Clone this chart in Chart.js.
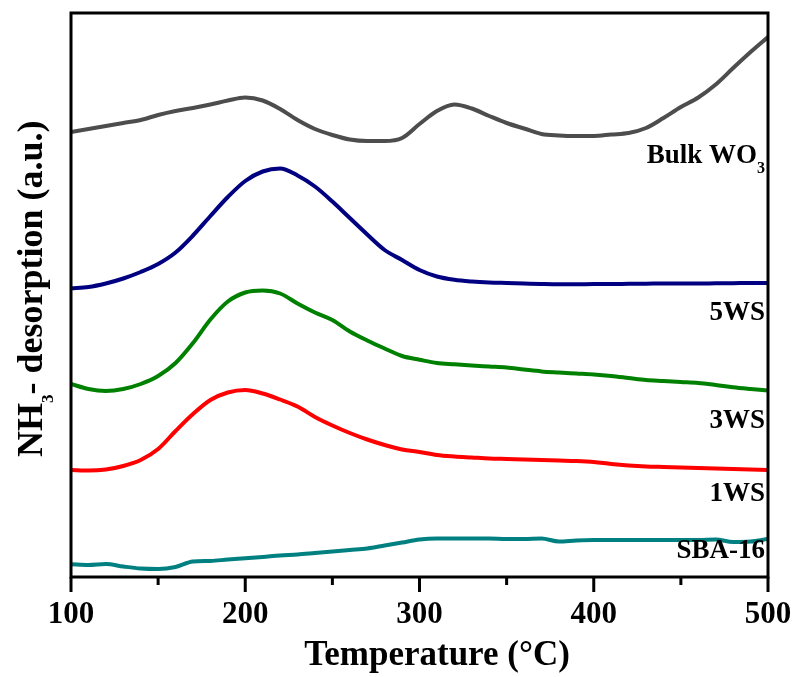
<!DOCTYPE html>
<html>
<head>
<meta charset="utf-8">
<title>NH3-TPD</title>
<script src="https://cdn.jsdelivr.net/npm/chart.js@4/dist/chart.umd.min.js"></script>
<style>
    html, body { margin: 0; padding: 0; background: #ffffff; }
    canvas { display: block; }
</style>
</head>
<body>
<canvas id="tpdChart" width="798" height="677"></canvas>
<script>
// Temperature grid (°C)
const temps = [100, 110, 120, 130, 140, 150, 160, 170, 180, 190,
               200, 210, 220, 230, 240, 250, 260, 270, 280, 290,
               300, 310, 320, 330, 340, 350, 360, 370, 380, 390,
               400, 410, 420, 430, 440, 450, 460, 470, 480, 490, 500];

// NH3 desorption signal (a.u., curves already stacked with offsets)
const bulkWO3 = [445, 448, 451, 454, 457, 462, 466, 469, 472.5, 476.5,
                 479.5, 476.5, 468, 457, 448, 442, 437.5, 436, 436, 439,
                 453, 466, 472.5, 468.5, 461, 454, 448.5, 443, 441.5, 441,
                 441, 442.5, 444, 449, 459, 470, 479.5, 492.5, 509, 525, 540];
const ws5 = [288.7, 290, 293.5, 298.5, 305, 313, 324.5, 341.5, 361, 380,
             396, 405.5, 408.5, 401.5, 390.5, 375.5, 359, 342.5, 327, 317,
             307, 300.5, 297.2, 295.5, 294.5, 294, 293.5, 293, 292.7, 292.7,
             293, 293, 293.2, 293.3, 293.5, 293.5, 293.5, 293.7, 293.8, 294, 294];
const ws3 = [193, 188, 186, 188, 193, 201, 214, 234, 257.5, 275.5,
             284.5, 286.5, 283.5, 273.5, 264.5, 257, 245.5, 236.5, 228.5, 221,
             217.3, 214, 212.7, 211.5, 210.5, 209.5, 207.5, 205.6, 204.5, 203.5,
             202.5, 201, 199, 197, 196, 195, 194, 192, 189.7, 188, 186.5];
const ws1 = [107, 106.5, 107.5, 111, 117, 128, 146, 163, 177, 184.5,
             187, 183.5, 177.5, 170.5, 160, 151.5, 144, 137.5, 132, 127.5,
             125, 122, 120.5, 119.5, 118.5, 118, 117.5, 117, 116.5, 116,
             115, 113, 111.5, 110.5, 110, 109.5, 109, 108.5, 108, 107.5, 107];
const sba16 = [12.7, 12, 13, 10.5, 8.5, 8, 10, 15.5, 16, 17.5,
               18.7, 20, 21.5, 22.5, 24, 25.5, 27, 28.5, 31.5, 34.5,
               37.5, 38.5, 38.5, 38.5, 38.5, 38, 38, 38.5, 35.5, 36.5,
               37, 37, 37, 37, 37, 37, 37, 37.5, 35, 35.5, 38];

// Curve names and colours
const seriesNames = ['Bulk WO3', '5WS', '3WS', '1WS', 'SBA-16'];
const seriesColors = ['#4d4d4d', '#000080', '#008000', '#ff0000', '#008080'];
const seriesData = [bulkWO3, ws5, ws3, ws1, sba16];

// Curve captions placed inside the frame (value coordinates)
const captions = [
    { text: 'Bulk WO', sub: '3', x: 498.3, y: 414 },
    { text: '5WS', sub: '', x: 498.3, y: 257 },
    { text: '3WS', sub: '', x: 498.3, y: 149 },
    { text: '1WS', sub: '', x: 498.3, y: 76 },
    { text: 'SBA-16', sub: '', x: 498.3, y: 19 }
];

const SERIF = '"Liberation Serif", "Times New Roman", serif';

// Frame, tick marks, captions and axis titles
const decorPlugin = {
    id: 'decor',
    afterDraw(chart) {
        const ctx = chart.ctx;
        const area = chart.chartArea;
        const xs = chart.scales.x;
        const ys = chart.scales.y;
        ctx.save();

        // box
        ctx.strokeStyle = '#000';
        ctx.lineWidth = 3;
        ctx.strokeRect(area.left, area.top, area.right - area.left, area.bottom - area.top);

        // outward ticks on the bottom axis
        xs.ticks.forEach(tk => {
            const px = xs.getPixelForValue(tk.value);
            const len = tk.value % 100 === 0 ? 15 : 8;
            ctx.beginPath();
            ctx.moveTo(px, area.bottom);
            ctx.lineTo(px, area.bottom + len);
            ctx.stroke();
        });

        // captions
        ctx.fillStyle = '#000';
        ctx.textBaseline = 'alphabetic';
        captions.forEach(c => {
            let right = xs.getPixelForValue(c.x);
            const base = ys.getPixelForValue(c.y);
            if (c.sub) {
                ctx.font = 'bold 16px ' + SERIF;
                ctx.textAlign = 'right';
                ctx.fillText(c.sub, right, base + 10);
                right -= ctx.measureText(c.sub).width;
            }
            ctx.font = 'bold 27px ' + SERIF;
            ctx.textAlign = 'right';
            ctx.fillText(c.text, right, base);
        });

        // x title
        ctx.font = 'bold 35px ' + SERIF;
        ctx.textAlign = 'center';
        ctx.fillText('Temperature (°C)', 437, 665);

        // y title (rotated, with subscript)
        ctx.translate(42, 457);
        ctx.rotate(-Math.PI / 2);
        ctx.textAlign = 'left';
        ctx.font = 'bold 36px ' + SERIF;
        ctx.fillText('NH', 0, 0);
        let w = ctx.measureText('NH').width;
        ctx.font = 'bold 17px ' + SERIF;
        ctx.fillText('3', w, 11);
        w += ctx.measureText('3').width;
        ctx.font = 'bold 36px ' + SERIF;
        ctx.fillText('- desorption (a.u.)', w, 0);

        ctx.restore();
    }
};

document.addEventListener('DOMContentLoaded', function() {
    const datasets = seriesNames.map((name, i) => ({
        label: name,
        data: temps.map((t, j) => ({ x: t, y: seriesData[i][j] })),
        borderColor: seriesColors[i],
        backgroundColor: 'transparent',
        borderWidth: 4,
        pointRadius: 0,
        cubicInterpolationMode: 'monotone',
        fill: false
    }));

    const ctx = document.getElementById('tpdChart').getContext('2d');
    new Chart(ctx, {
        type: 'line',
        data: { datasets: datasets },
        options: {
            responsive: false,
            animation: false,
            layout: {
                padding: { left: 71, right: 30, top: 13, bottom: 0 }
            },
            plugins: {
                legend: { display: false },
                tooltip: { enabled: false }
            },
            scales: {
                x: {
                    type: 'linear',
                    min: 100,
                    max: 500,
                    grid: { display: false, drawTicks: false },
                    border: { display: false },
                    ticks: {
                        stepSize: 50,
                        autoSkip: false,
                        maxRotation: 0,
                        padding: 19,
                        color: '#000',
                        font: { family: SERIF, size: 31, weight: 'bold' },
                        callback: v => (v % 100 === 0 ? v : '')
                    },
                    afterFit: scale => {
                        scale.height = 100;
                        scale.paddingLeft = 0;
                        scale.paddingRight = 0;
                    }
                },
                y: {
                    display: false,
                    min: 0,
                    max: 564
                }
            }
        },
        plugins: [decorPlugin]
    });
});
</script>
</body>
</html>
